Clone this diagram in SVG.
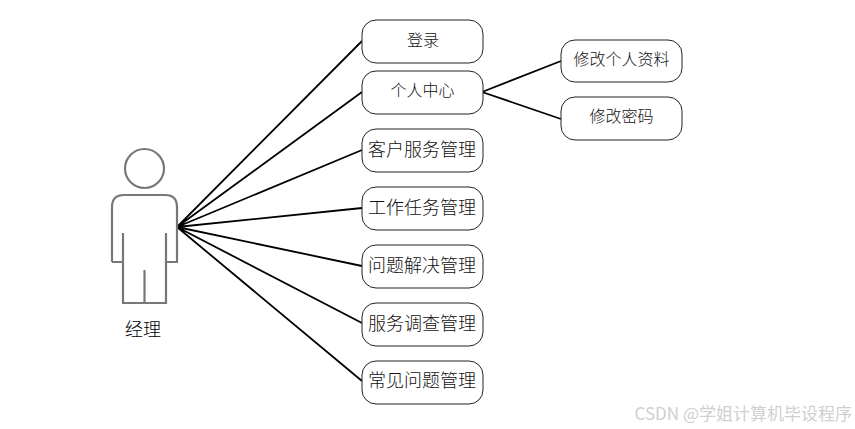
<svg xmlns="http://www.w3.org/2000/svg" width="855" height="429" viewBox="0 0 855 429">
<style>
.n{fill:#fff;stroke:#222;stroke-width:1}
.t{font-family:"Noto Sans CJK SC","Noto Sans CJK JP",sans-serif;font-size:18px;font-weight:300;fill:#111;text-anchor:middle}
.s{font-size:16px}
.c{stroke:#000;stroke-width:1.8;fill:none}
.a{fill:none;stroke:#777;stroke-width:2.2}
</style>
<rect width="855" height="429" fill="#fff"/>
<g id="connectors">
<path class="c" d="M177 227L362 41M177 227L362 92M177 227L362 150M177 227L362 208M177 227L362 266M177 227L362 323M177 227L362 381M482 92L561 61M482 92L561 119"/>
</g>
<g id="actor">
<circle class="a" cx="144.500" cy="168.500" r="19.500"/>
<path class="a" d="M112 262V207Q112 195 124 195H165Q177 195 177 207V262H166M112 262H123M123 233V303H166V233M144.500 270V303"/>
<text class="t" x="143" y="336" style="fill:#000">经理</text>
</g>
<g id="n1"><rect class="n" x="362" y="20" width="121" height="43" rx="14"/><text class="t s" x="423" y="46">登录</text></g>
<g id="n2"><rect class="n" x="362" y="71" width="121" height="43" rx="14"/><text class="t s" x="422.500" y="96">个人中心</text></g>
<g id="n3"><rect class="n" x="362" y="129" width="121" height="43" rx="14"/><text class="t" x="422" y="156">客户服务管理</text></g>
<g id="n4"><rect class="n" x="362" y="187" width="121" height="43" rx="14"/><text class="t" x="422" y="214">工作任务管理</text></g>
<g id="n5"><rect class="n" x="362" y="245" width="121" height="43" rx="14"/><text class="t" x="422" y="272">问题解决管理</text></g>
<g id="n6"><rect class="n" x="362" y="303" width="121" height="43" rx="14"/><text class="t" x="422" y="330">服务调查管理</text></g>
<g id="n7"><rect class="n" x="362" y="361" width="121" height="43" rx="14"/><text class="t" x="422" y="387">常见问题管理</text></g>
<g id="n8"><rect class="n" x="561" y="40" width="121" height="42" rx="14"/><text class="t s" x="621.500" y="65">修改个人资料</text></g>
<g id="n9"><rect class="n" x="561" y="97" width="121" height="43" rx="14"/><text class="t s" x="621.500" y="122">修改密码</text></g>
<text x="852" y="420" style="font-family:'Noto Sans CJK SC',sans-serif;font-size:17px;fill:#cfcfcf;text-anchor:end">CSDN @学姐计算机毕设程序</text>
</svg>
